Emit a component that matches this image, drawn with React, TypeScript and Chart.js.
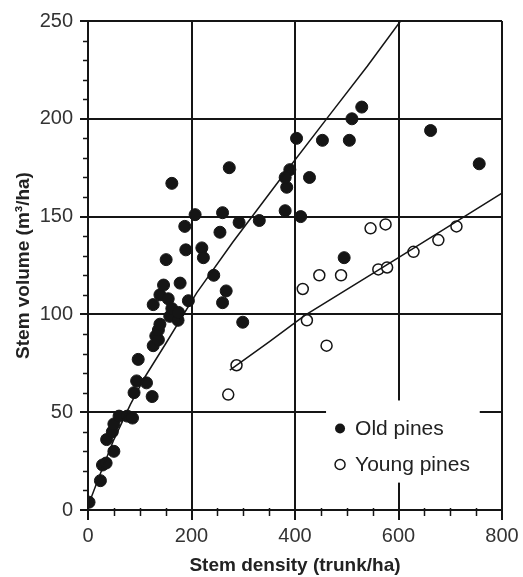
import React, { useEffect, useRef } from "react";
import { Chart, registerables } from "chart.js";

Chart.register(...registerables);

// Old pines (filled markers)
const oldX = [2, 24, 28, 35, 50, 36, 47, 50, 60, 76, 86, 89, 124, 94, 113, 97, 126, 131, 136, 136, 139, 158, 174, 126, 139, 155, 162, 175, 146, 178, 194, 162, 207, 260, 187, 292, 331, 381, 255, 189, 220, 223, 151, 243, 267, 260, 299, 273, 384, 390, 381, 403, 428, 411, 453, 505, 510, 529, 662, 756, 495];
const oldY = [4, 15, 23, 24, 30, 36, 40, 44, 48, 48, 47, 60, 58, 66, 65, 77, 84, 89, 87, 92, 95, 99, 97, 105, 110, 108, 103, 101, 115, 116, 107, 167, 151, 152, 145, 147, 148, 153, 142, 133, 134, 129, 128, 120, 112, 106, 96, 175, 165, 174, 170, 190, 170, 150, 189, 189, 200, 206, 194, 177, 129];

// Young pines (open markers)
const youngX = [271, 287, 415, 423, 447, 461, 489, 546, 575, 561, 578, 629, 677, 712];
const youngY = [59, 74, 113, 97, 120, 84, 120, 144, 146, 123, 124, 132, 138, 145];

// Fitted curves
const oldFitX = [0, 20, 50, 82, 110, 150, 210, 280, 371, 464, 540, 604];
const oldFitY = [2, 16, 36, 54, 68, 85, 111, 137, 169, 201, 227, 250];
const youngFitX = [274, 350, 419, 600, 800];
const youngFitY = [71.5, 86, 99.5, 129, 162];

const legendLabels = ["Old pines", "Young pines"];
const xTitle = "Stem density (trunk/ha)";
const yTitle = "Stem volume (m\u00B3/ha)";

const zip = (xs: number[], ys: number[]) => xs.map((x, i) => ({ x, y: ys[i] }));

const INK = "#151515";

const minorTicks = {
  id: "minorTicks",
  afterDraw(chart: any) {
    const { ctx, scales } = chart;
    const xs = scales.x;
    const ys = scales.y;
    ctx.save();
    ctx.strokeStyle = INK;
    ctx.lineWidth = 1.5;
    ctx.beginPath();
    for (let v = 10; v < 250; v += 10) {
      if (v % 50 === 0) continue;
      const py = Math.round(ys.getPixelForValue(v)) + 0.5;
      ctx.moveTo(xs.left, py);
      ctx.lineTo(xs.left - 5, py);
    }
    for (let v = 50; v < 800; v += 50) {
      if (v % 200 === 0) continue;
      const px = Math.round(xs.getPixelForValue(v)) + 0.5;
      ctx.moveTo(px, ys.bottom - 2);
      ctx.lineTo(px, ys.bottom + 6);
    }
    ctx.stroke();
    ctx.restore();
  },
};

const boxLegend = {
  id: "boxLegend",
  afterDatasetsDraw(chart: any) {
    const { ctx, scales } = chart;
    const xs = scales.x;
    const ys = scales.y;
    const left = xs.getPixelForValue(460);
    const right = xs.getPixelForValue(757);
    const top = ys.getPixelForValue(56);
    const bottom = ys.getPixelForValue(14);
    ctx.save();
    ctx.fillStyle = "#ffffff";
    ctx.fillRect(left, top, right - left, bottom - top);
    ctx.font = "21px Arial, 'Liberation Sans', sans-serif";
    ctx.textBaseline = "middle";
    ctx.fillStyle = "#222";
    const rows = [top + 28, top + 64];
    rows.forEach((ry, i) => {
      ctx.beginPath();
      ctx.arc(left + 14, ry, 5, 0, Math.PI * 2);
      if (i === 0) {
        ctx.fillStyle = INK;
        ctx.fill();
      } else {
        ctx.fillStyle = "#fff";
        ctx.fill();
        ctx.lineWidth = 1.5;
        ctx.strokeStyle = INK;
        ctx.stroke();
      }
      ctx.fillStyle = "#222";
      ctx.fillText(legendLabels[i], left + 29, ry + 1);
    });
    ctx.restore();
  },
};

export default function App() {
  const ref = useRef<HTMLCanvasElement>(null);
  useEffect(() => {
    if (!ref.current) return;
    const chart = new Chart(ref.current, {
      type: "scatter",
      data: {
        datasets: [
          {
            label: "Old pines fit",
            data: zip(oldFitX, oldFitY),
            showLine: true,
            borderColor: INK,
            borderWidth: 1.5,
            pointRadius: 0,
            fill: false,
            order: 0,
          } as any,
          {
            label: "Young pines fit",
            data: zip(youngFitX, youngFitY),
            showLine: true,
            borderColor: INK,
            borderWidth: 1.5,
            pointRadius: 0,
            fill: false,
            order: 0,
          } as any,
          {
            label: legendLabels[0],
            data: zip(oldX, oldY),
            pointRadius: 6,
            pointBackgroundColor: INK,
            pointBorderColor: INK,
            pointBorderWidth: 1,
            order: 2,
          },
          {
            label: legendLabels[1],
            data: zip(youngX, youngY),
            pointRadius: 5.5,
            pointBackgroundColor: "#ffffff",
            pointBorderColor: INK,
            pointBorderWidth: 1.5,
            order: 1,
          },
        ],
      },
      options: {
        responsive: false,
        animation: false,
        layout: { padding: { top: 21, right: 21, left: 0, bottom: 0 } },
        plugins: {
          legend: { display: false },
          tooltip: { enabled: false },
        },
        scales: {
          x: {
            type: "linear",
            min: 0,
            max: 800,
            ticks: {
              stepSize: 200,
              color: "#333",
              font: { size: 20, family: "Arial, 'Liberation Sans', sans-serif" },
              padding: 4,
              maxRotation: 0,
            },
            grid: { color: INK, lineWidth: 2, tickLength: 10 },
            border: { color: INK, width: 2 },
            title: {
              display: true,
              text: xTitle,
              color: "#222",
              font: { size: 19, weight: "bold", family: "Arial, 'Liberation Sans', sans-serif" },
              padding: { top: 0, bottom: 0 },
            },
            afterFit: (s: any) => {
              s.height = 67;
            },
          },
          y: {
            type: "linear",
            min: 0,
            max: 250,
            ticks: {
              stepSize: 50,
              color: "#333",
              font: { size: 20, family: "Arial, 'Liberation Sans', sans-serif" },
              padding: 7,
            },
            grid: { color: INK, lineWidth: 2, tickLength: 8 },
            border: { color: INK, width: 2 },
            title: {
              display: true,
              text: yTitle,
              color: "#222",
              font: { size: 19, weight: "bold", family: "Arial, 'Liberation Sans', sans-serif" },
              padding: { top: 12, bottom: 0 },
            },
            afterFit: (s: any) => {
              s.width = 88;
            },
          },
        },
      },
      plugins: [boxLegend, minorTicks],
    });
    return () => chart.destroy();
  }, []);
  return (
    <div style={{ position: "absolute", left: 0, top: 0, width: 523, height: 577, background: "#fff" }}>
      <canvas ref={ref} width={523} height={577} />
    </div>
  );
}
